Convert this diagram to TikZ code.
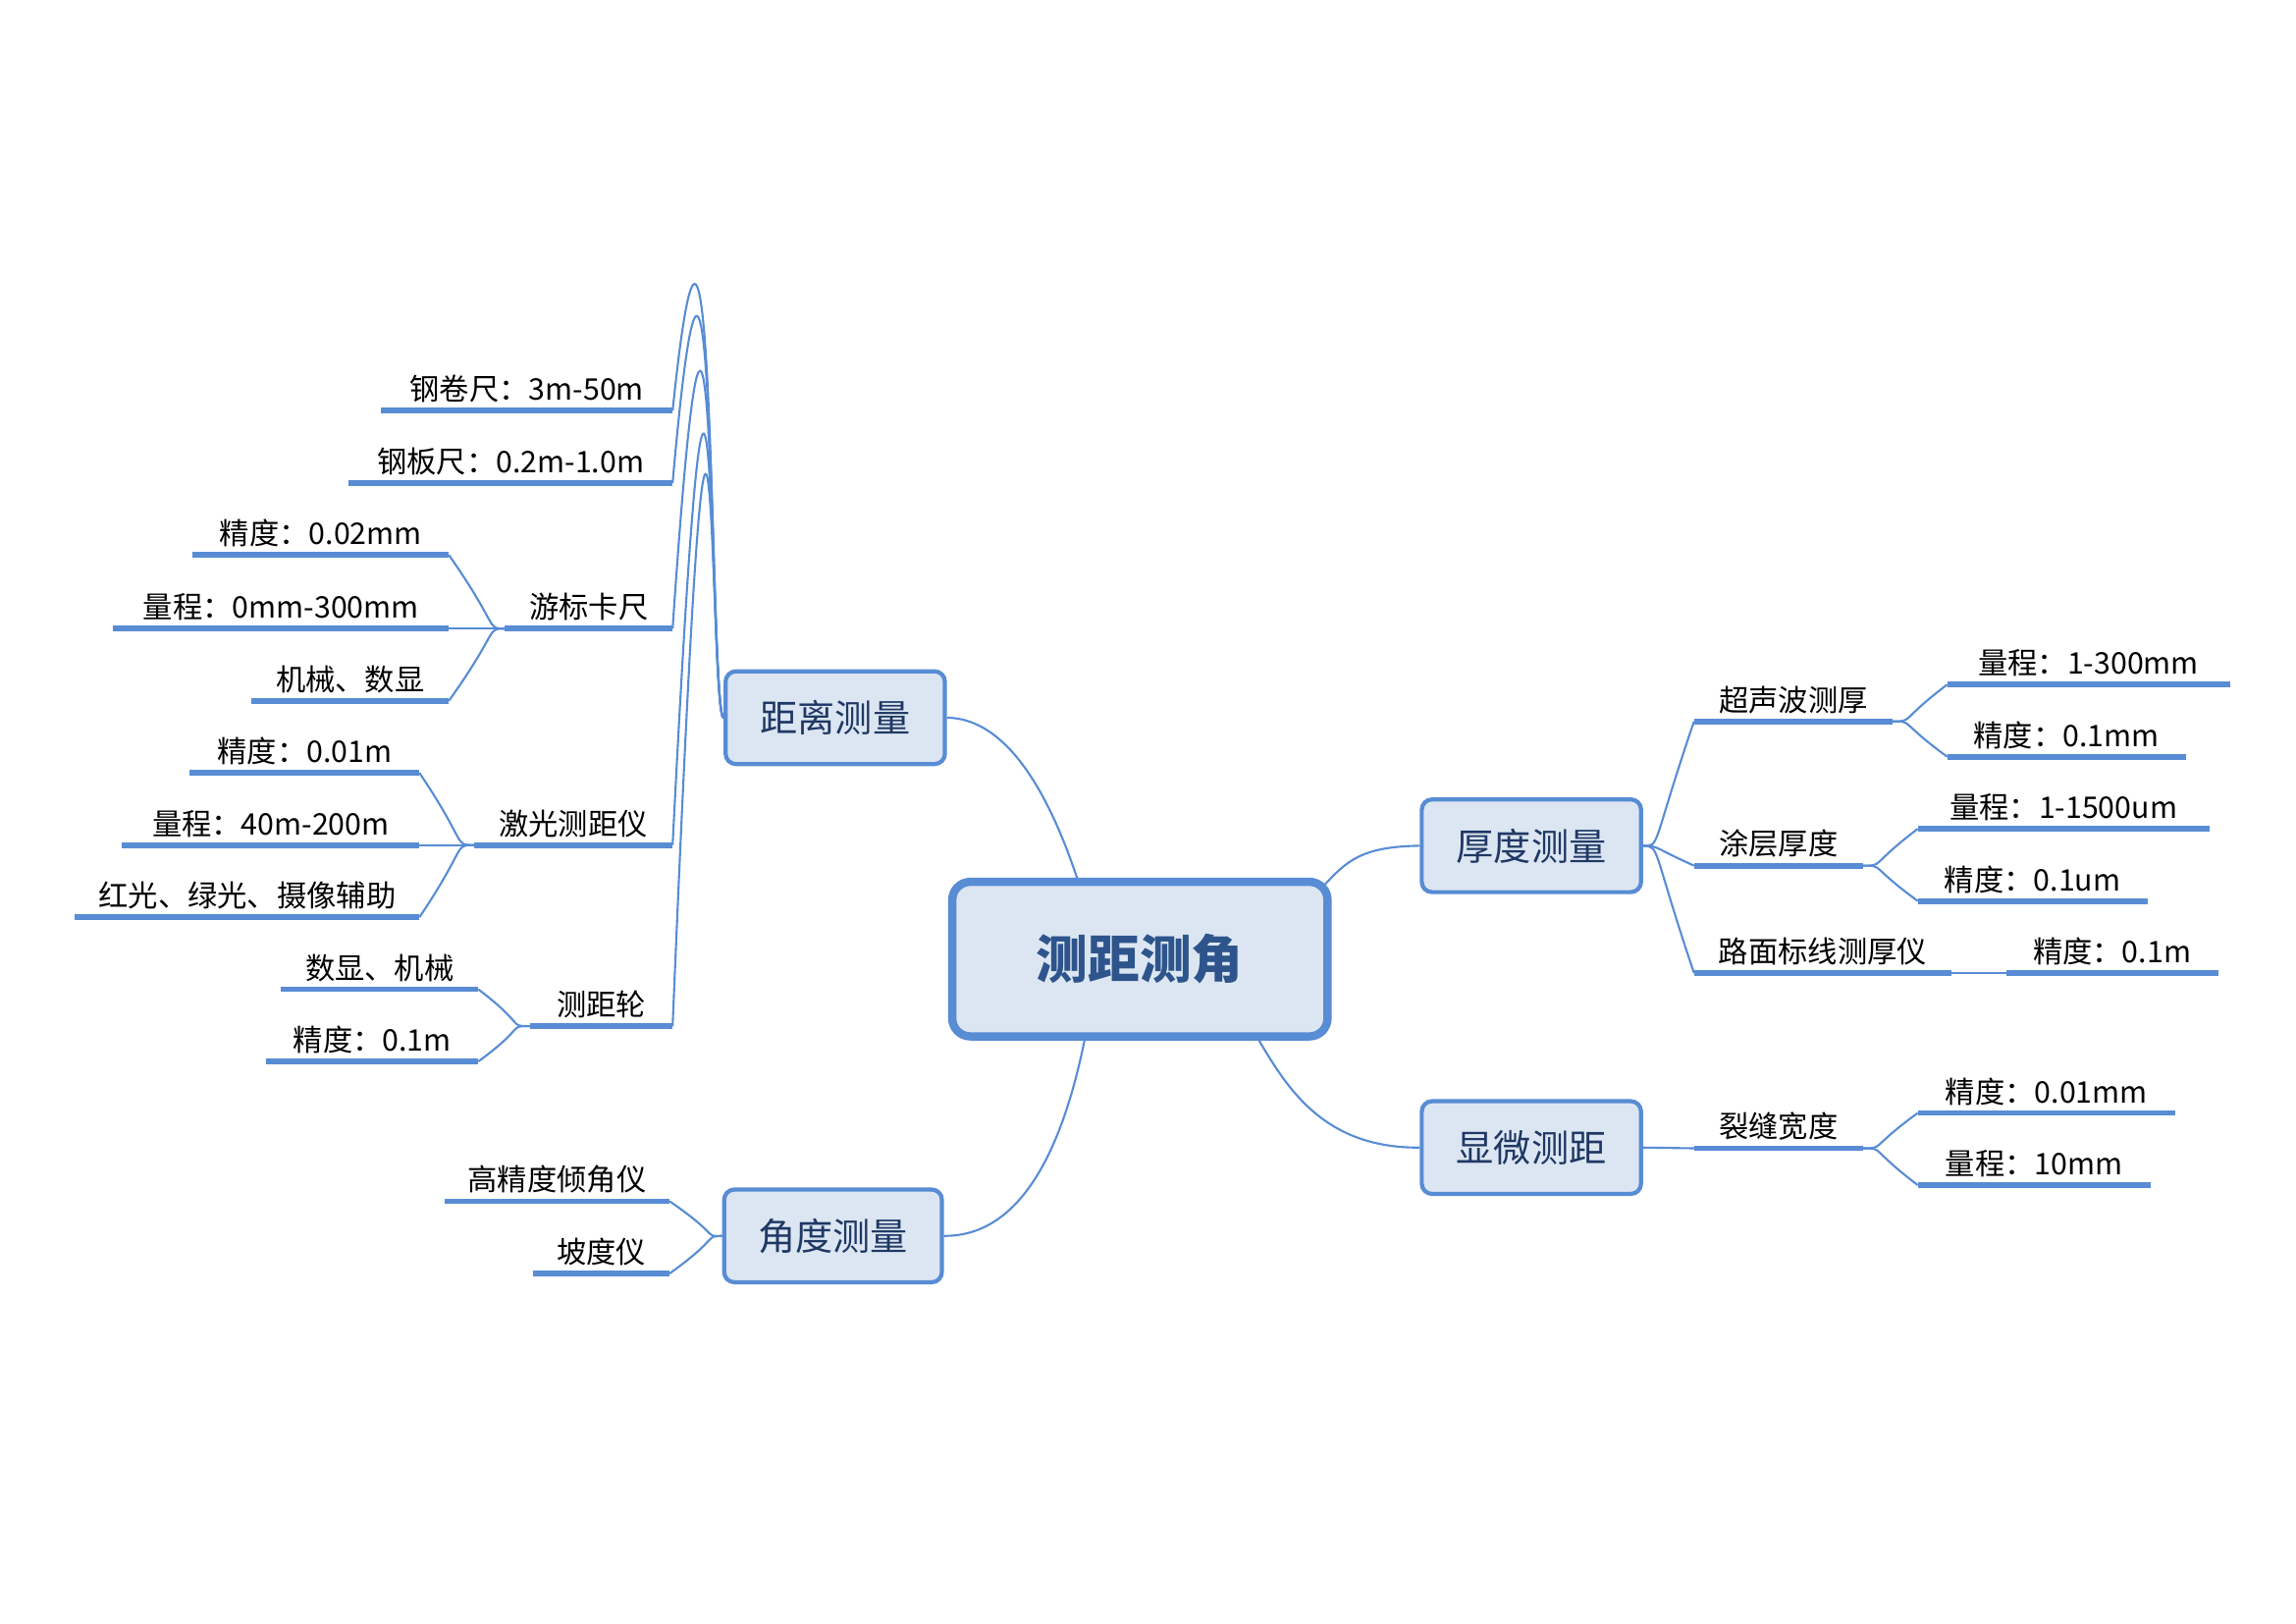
\documentclass[tikz,border=0pt]{standalone}
\usepackage{fontspec}
\setmainfont{Noto Sans CJK SC}
\begin{document}
\begin{tikzpicture}[x=0.02cm,y=-0.02cm,
  every node/.style={inner sep=0pt},
  uline/.style={draw=lblue,line width=2.2pt},
  conn/.style={draw=lblue,line width=0.8pt},
  lbl/.style={anchor=south,font=\fontsize{11.5}{13}\selectfont},
  mainbox/.style={draw=lblue,line width=1.6pt,fill=boxfill,rounded corners=4pt,text=titleblue,font=\fontsize{14.5}{16}\selectfont},
  centerbox/.style={draw=lblue,line width=3.2pt,fill=boxfill,rounded corners=7pt,text=centerblue,font=\fontsize{20}{22}\selectfont\bfseries}]
\definecolor{lblue}{RGB}{88,140,212}
\definecolor{boxfill}{RGB}{220,230,242}
\definecolor{titleblue}{RGB}{31,56,100}
\definecolor{centerblue}{RGB}{46,84,140}
\useasboundingbox (0,0) rectangle (1560,1103);
\newcommand{\leaf}[5]{%
  \coordinate (#1-l) at (#2,#4); \coordinate (#1-r) at (#3,#4);
  \draw[uline] (#1-l)--(#1-r);
  \node[lbl] (#1) at ({(#2+#3)/2},#4-5) {#5};}
% main boxes
\node[centerbox,minimum width=255*0.02cm,minimum height=105*0.02cm] (c) at (774.5,651.5) {测距测角};
\node[mainbox,minimum width=149*0.02cm,minimum height=63*0.02cm] (d) at (567.5,487.5) {距离测量};
\node[mainbox,minimum width=149*0.02cm,minimum height=63*0.02cm] (h) at (1040.5,574.5) {厚度测量};
\node[mainbox,minimum width=149*0.02cm,minimum height=63*0.02cm] (x) at (1040.5,779.5) {显微测距};
\node[mainbox,minimum width=148*0.02cm,minimum height=63*0.02cm] (a) at (566,839.5) {角度测量};
\coordinate (c1) at (732,597); \coordinate (c2) at (737,706);
\coordinate (c3) at (900,601); \coordinate (c4) at (855,706);
\draw[conn] (d.east) .. controls (690,488) and (718,555) .. (c1);
\draw[conn] (a.east) .. controls (700,840) and (725,765) .. (c2);
\draw[conn] (h.west) .. controls (925,575) and (915,585) .. (c3);
\draw[conn] (x.west) .. controls (900,780) and (875,740) .. (c4);
% left leaves
\leaf{g1}{259}{457}{279}{钢卷尺：3m-50m}
\leaf{g2}{237}{457}{328}{钢板尺：0.2m-1.0m}
\leaf{yb}{343}{457}{427}{游标卡尺}
\leaf{yb1}{131}{305}{377}{精度：0.02mm}
\leaf{yb2}{77}{305}{427}{量程：0mm-300mm}
\leaf{yb3}{171}{305}{476}{机械、数显}
\leaf{jg}{322}{457}{574}{激光测距仪}
\leaf{jg1}{129}{285}{525}{精度：0.01m}
\leaf{jg2}{83}{285}{574}{量程：40m-200m}
\leaf{jg3}{51}{285}{623}{红光、绿光、摄像辅助}
\leaf{cl}{360}{457}{697}{测距轮}
\leaf{cl1}{191}{325}{672}{数显、机械}
\leaf{cl2}{181}{325}{721}{精度：0.1m}
\leaf{qj}{302}{455}{816}{高精度倾角仪}
\leaf{pd}{362}{455}{865}{坡度仪}
\foreach \n in {g1,g2,yb,jg,cl}
  \draw[conn] (d.west) .. controls (482,488) and (486,{0}) .. (\n-r);
\foreach \n in {yb1,yb2,yb3} \draw[conn] (yb-l) .. controls (330,427) and (340,427) .. (\n-r);
\foreach \n in {jg1,jg2,jg3} \draw[conn] (jg-l) .. controls (308,574) and (318,574) .. (\n-r);
\foreach \n in {cl1,cl2} \draw[conn] (cl-l) .. controls (345,697) and (358,697) .. (\n-r);
\foreach \n in {qj,pd} \draw[conn] (a.west) .. controls (478,840) and (490,840) .. (\n-r);
% right leaves
\leaf{cs}{1151}{1286}{490}{超声波测厚}
\leaf{cs1}{1323}{1515}{465}{量程：1-300mm}
\leaf{cs2}{1323}{1485}{514}{精度：0.1mm}
\leaf{tc}{1151}{1266}{588}{涂层厚度}
\leaf{tc1}{1303}{1501}{563}{量程：1-1500um}
\leaf{tc2}{1303}{1459}{612}{精度：0.1um}
\leaf{lm}{1151}{1326}{661}{路面标线测厚仪}
\leaf{lm1}{1363}{1507}{661}{精度：0.1m}
\leaf{lf}{1151}{1266}{780}{裂缝宽度}
\leaf{lf1}{1303}{1478}{756}{精度：0.01mm}
\leaf{lf2}{1303}{1461}{805}{量程：10mm}
\foreach \n in {cs,tc,lm} \draw[conn] (h.east) .. controls (1128,575) and (1122,575) .. (\n-l);
\foreach \n in {cs1,cs2} \draw[conn] (cs-r) .. controls (1300,490) and (1290,490) .. (\n-l);
\foreach \n in {tc1,tc2} \draw[conn] (tc-r) .. controls (1280,588) and (1270,588) .. (\n-l);
\draw[conn] (lm-r) -- (lm1-l);
\draw[conn] (x.east) -- (lf-l);
\foreach \n in {lf1,lf2} \draw[conn] (lf-r) .. controls (1280,780) and (1270,780) .. (\n-l);
\end{tikzpicture}
\end{document}
